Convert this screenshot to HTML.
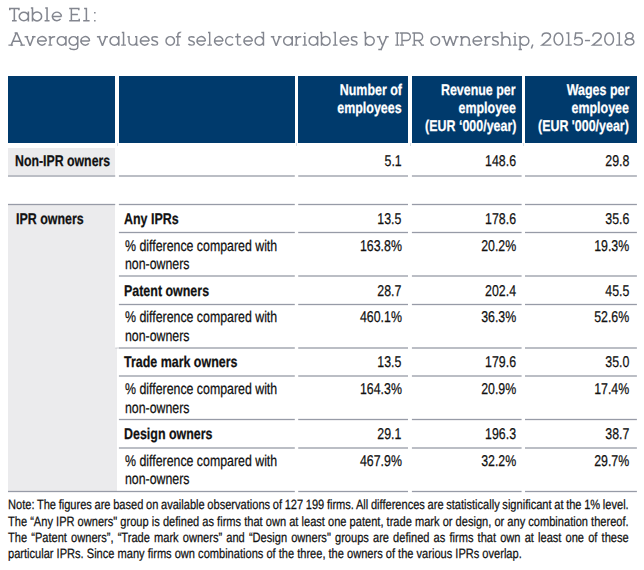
<!DOCTYPE html>
<html><head><meta charset="utf-8"><style>
html,body{margin:0;padding:0;background:#fff;}
body{width:644px;height:570px;position:relative;overflow:hidden;font-family:"Liberation Sans",sans-serif;}
.t{position:absolute;line-height:0;white-space:nowrap;-webkit-text-stroke:0.25px currentColor;text-rendering:geometricPrecision;}
</style></head><body>
<svg style="position:absolute;left:0;top:0" width="644" height="60" fill="none" stroke="#83868f" stroke-width="1.45"><g transform="translate(9.00 21.40) scale(1.0667 1)"><path transform="translate(0.00 0)" d="M0.00 -12.88L10.00 -12.88M0.72 -13.60L0.72 -11.20M9.28 -13.60L9.28 -11.20M5.00 -13.60L5.00 0.00M2.80 -0.72L7.20 -0.72"/><path transform="translate(8.90 0)" d="M0.72 -4.95A4.28 4.28 0 1 0 9.28 -4.95A4.28 4.28 0 1 0 0.72 -4.95M9.28 -9.90L9.28 0.00"/><path transform="translate(20.50 0)" d="M1.50 -14.10L1.50 0.00M0.00 -13.38L2.23 -13.38M1.50 -4.95A4.28 4.28 0 1 0 10.05 -4.95A4.28 4.28 0 1 0 1.50 -4.95"/><path transform="translate(33.38 0)" d="M2.30 -14.10L2.30 0.00M0.60 -13.38L3.02 -13.38M0.00 -0.72L4.60 -0.72"/><path transform="translate(39.88 0)" d="M9.28 -4.95A4.28 4.28 0 1 0 8.50 -2.50M0.72 -4.95L9.28 -4.95"/></g><g transform="translate(69.20 21.40) scale(1.0353 1)"><path transform="translate(0.00 0)" d="M2.10 -13.60L2.10 0.00M0.00 -12.88L10.00 -12.88M9.28 -13.60L9.28 -11.20M2.10 -6.90L8.40 -6.90M0.00 -0.72L10.40 -0.72M9.68 0.00L9.68 -2.60"/><path transform="translate(13.50 0)" d="M3.10 -13.60L3.10 0.00M0.90 -12.88L3.83 -12.88M0.00 -0.72L6.20 -0.72"/><path transform="translate(24.00 0)" d="M0.75 -9.45L0.75 -7.95M0.75 -1.50L0.75 0.00"/></g><g transform="translate(8.40 45.85) scale(1.0174 1)"><path transform="translate(0.00 0)" d="M2.40 0.00L8.10 -13.60M8.10 -13.60L13.80 0.00M6.10 -12.88L8.30 -12.88M4.37 -4.70L11.83 -4.70M0.00 -0.72L4.60 -0.72M11.60 -0.72L16.20 -0.72"/><path transform="translate(15.90 0)" d="M1.80 -9.90L5.40 0.00M5.40 0.00L9.00 -9.90M0.00 -9.18L3.50 -9.18M7.30 -9.18L10.80 -9.18"/><path transform="translate(28.00 0)" d="M9.28 -4.95A4.28 4.28 0 1 0 8.50 -2.50M0.72 -4.95L9.28 -4.95"/><path transform="translate(39.30 0)" d="M1.70 -9.90L1.70 0.00M0.20 -9.18L2.42 -9.18M0.00 -0.72L3.80 -0.72M1.70 -5.0C1.70 -8.0 3.60 -9.18 6.30 -9.18L6.70 -9.18"/><path transform="translate(47.30 0)" d="M0.72 -4.95A4.28 4.28 0 1 0 9.28 -4.95A4.28 4.28 0 1 0 0.72 -4.95M9.28 -9.90L9.28 0.00"/><path transform="translate(58.90 0)" d="M0.72 -4.95A4.28 4.28 0 1 0 9.28 -4.95A4.28 4.28 0 1 0 0.72 -4.95M9.28 -9.90L9.28 0.80M9.28 0.8C9.28 4.00 6.40 3.57 5.00 3.57C2.80 3.57 1.60 3.00 1.10 2.00"/><path transform="translate(70.50 0)" d="M9.28 -4.95A4.28 4.28 0 1 0 8.50 -2.50M0.72 -4.95L9.28 -4.95"/></g><g transform="translate(96.90 45.85) scale(1.0250 1)"><path transform="translate(0.00 0)" d="M1.80 -9.90L5.40 0.00M5.40 0.00L9.00 -9.90M0.00 -9.18L3.50 -9.18M7.30 -9.18L10.80 -9.18"/><path transform="translate(12.10 0)" d="M0.72 -4.95A4.28 4.28 0 1 0 9.28 -4.95A4.28 4.28 0 1 0 0.72 -4.95M9.28 -9.90L9.28 0.00"/><path transform="translate(23.70 0)" d="M2.30 -14.10L2.30 0.00M0.60 -13.38L3.02 -13.38M0.00 -0.72L4.60 -0.72"/><path transform="translate(29.60 0)" d="M1.70 -9.90L1.70 -4.9C1.70 -1.7 3.50 -0.72 5.40 -0.72C7.30 -0.72 9.10 -1.7 9.10 -4.9M9.10 -9.90L9.10 0.00M0.20 -9.18L2.42 -9.18M7.60 -9.18L9.82 -9.18M8.38 -0.72L10.80 -0.72"/><path transform="translate(41.70 0)" d="M9.28 -4.95A4.28 4.28 0 1 0 8.50 -2.50M0.72 -4.95L9.28 -4.95"/><path transform="translate(53.00 0)" d="M6.40 -8.3C5.90 -9.18 4.70 -9.18 3.45 -9.18C1.5 -9.18 0.72 -8.5 0.72 -7.2C0.72 -5.5 2.0 -5.2 3.45 -4.85C4.90 -4.5 6.18 -4.0 6.18 -2.5C6.18 -1.0 5.20 -0.72 3.45 -0.72C1.8 -0.72 0.7 -1.0 0.2 -1.9"/></g><g transform="translate(165.30 45.85) scale(0.9876 1)"><path transform="translate(0.00 0)" d="M0.72 -4.95A4.28 4.28 0 1 0 9.28 -4.95A4.28 4.28 0 1 0 0.72 -4.95"/><path transform="translate(10.70 0)" d="M2.00 0L2.00 -10.6C2.00 -12.6 2.90 -13.38 4.20 -13.38C4.80 -13.38 5.10 -13.7 5.30 -13.4M0.00 -9.18L5.00 -9.18M0.00 -0.72L4.00 -0.72"/></g><g transform="translate(188.20 45.85) scale(0.9854 1)"><path transform="translate(0.00 0)" d="M6.40 -8.3C5.90 -9.18 4.70 -9.18 3.45 -9.18C1.5 -9.18 0.72 -8.5 0.72 -7.2C0.72 -5.5 2.0 -5.2 3.45 -4.85C4.90 -4.5 6.18 -4.0 6.18 -2.5C6.18 -1.0 5.20 -0.72 3.45 -0.72C1.8 -0.72 0.7 -1.0 0.2 -1.9"/><path transform="translate(8.20 0)" d="M9.28 -4.95A4.28 4.28 0 1 0 8.50 -2.50M0.72 -4.95L9.28 -4.95"/><path transform="translate(19.50 0)" d="M2.30 -14.10L2.30 0.00M0.60 -13.38L3.02 -13.38M0.00 -0.72L4.60 -0.72"/><path transform="translate(26.00 0)" d="M9.28 -4.95A4.28 4.28 0 1 0 8.50 -2.50M0.72 -4.95L9.28 -4.95"/><path transform="translate(37.30 0)" d="M8.18 -7.81A4.28 4.28 0 1 0 8.18 -2.09"/><path transform="translate(47.70 0)" d="M2.40 -12.4L2.40 -2.6C2.40 -1.0 3.30 -0.72 4.40 -0.72C5.20 -0.72 5.80 -0.8 6.10 -1.4M0.00 -9.18L5.70 -9.18"/><path transform="translate(55.83 0)" d="M9.28 -4.95A4.28 4.28 0 1 0 8.50 -2.50M0.72 -4.95L9.28 -4.95"/><path transform="translate(67.13 0)" d="M0.72 -4.95A4.28 4.28 0 1 0 9.28 -4.95A4.28 4.28 0 1 0 0.72 -4.95M9.28 -14.10L9.28 0.00M7.05 -13.38L10.00 -13.38"/></g><g transform="translate(270.80 45.85) scale(1.0038 1)"><path transform="translate(0.00 0)" d="M1.80 -9.90L5.40 0.00M5.40 0.00L9.00 -9.90M0.00 -9.18L3.50 -9.18M7.30 -9.18L10.80 -9.18"/><path transform="translate(12.10 0)" d="M0.72 -4.95A4.28 4.28 0 1 0 9.28 -4.95A4.28 4.28 0 1 0 0.72 -4.95M9.28 -9.90L9.28 0.00"/><path transform="translate(23.70 0)" d="M1.70 -9.90L1.70 0.00M0.20 -9.18L2.42 -9.18M0.00 -0.72L3.80 -0.72M1.70 -5.0C1.70 -8.0 3.60 -9.18 6.30 -9.18L6.70 -9.18"/><path transform="translate(31.70 0)" d="M2.20 -9.90L2.20 0.00M0.60 -9.18L2.93 -9.18M0.00 -0.72L4.40 -0.72M2.20 -13.45L2.20 -11.95"/><path transform="translate(37.40 0)" d="M0.72 -4.95A4.28 4.28 0 1 0 9.28 -4.95A4.28 4.28 0 1 0 0.72 -4.95M9.28 -9.90L9.28 0.00"/><path transform="translate(49.00 0)" d="M1.50 -14.10L1.50 0.00M0.00 -13.38L2.23 -13.38M1.50 -4.95A4.28 4.28 0 1 0 10.05 -4.95A4.28 4.28 0 1 0 1.50 -4.95"/><path transform="translate(61.88 0)" d="M2.30 -14.10L2.30 0.00M0.60 -13.38L3.02 -13.38M0.00 -0.72L4.60 -0.72"/><path transform="translate(68.38 0)" d="M9.28 -4.95A4.28 4.28 0 1 0 8.50 -2.50M0.72 -4.95L9.28 -4.95"/><path transform="translate(79.67 0)" d="M6.40 -8.3C5.90 -9.18 4.70 -9.18 3.45 -9.18C1.5 -9.18 0.72 -8.5 0.72 -7.2C0.72 -5.5 2.0 -5.2 3.45 -4.85C4.90 -4.5 6.18 -4.0 6.18 -2.5C6.18 -1.0 5.20 -0.72 3.45 -0.72C1.8 -0.72 0.7 -1.0 0.2 -1.9"/></g><g transform="translate(363.90 45.85) scale(1.0216 1)"><path transform="translate(0.00 0)" d="M1.50 -14.10L1.50 0.00M0.00 -13.38L2.23 -13.38M1.50 -4.95A4.28 4.28 0 1 0 10.05 -4.95A4.28 4.28 0 1 0 1.50 -4.95"/><path transform="translate(12.68 0)" d="M1.80 -9.90L5.80 0.00M9.80 -9.90L3.90 4.30M0.00 -9.18L3.50 -9.18M8.10 -9.18L11.60 -9.18M1.40 3.57L4.90 3.57"/></g><g transform="translate(395.30 45.85) scale(0.9543 1)"><path transform="translate(0.00 0)" d="M2.10 -13.60L2.10 0.00M0.00 -12.88L4.20 -12.88M0.00 -0.72L4.20 -0.72"/><path transform="translate(4.90 0)" d="M2.10 -13.60L2.10 0.00M0.00 -12.88L2.10 -12.88M0.00 -0.72L4.20 -0.72M2.10 -12.88L7.10 -12.88A3.75 3.75 0 0 1 7.10 -5.38L2.10 -5.38"/><path transform="translate(17.78 0)" d="M2.10 -13.60L2.10 0.00M0.00 -12.88L2.10 -12.88M0.00 -0.72L4.20 -0.72M2.10 -12.88L7.10 -12.88A3.75 3.75 0 0 1 7.10 -5.38L2.10 -5.38M6.50 -5.38L10.70 0.00M8.90 -0.72L12.30 -0.72"/></g><g transform="translate(430.20 45.85) scale(1.0160 1)"><path transform="translate(0.00 0)" d="M0.72 -4.95A4.28 4.28 0 1 0 9.28 -4.95A4.28 4.28 0 1 0 0.72 -4.95"/><path transform="translate(11.30 0)" d="M1.80 -9.90L5.05 0.00M5.05 0.00L8.30 -9.60M8.30 -9.60L11.55 0.00M11.55 0.00L14.80 -9.90M0.00 -9.18L3.30 -9.18M13.30 -9.18L16.60 -9.18"/><path transform="translate(29.20 0)" d="M1.70 -9.90L1.70 0.00M0.20 -9.18L2.42 -9.18M0.00 -0.72L3.40 -0.72M1.70 -4.8C1.70 -8.1 3.50 -9.18 5.50 -9.18C7.50 -9.18 9.30 -8.1 9.30 -4.8L9.30 0M7.60 -0.72L11.00 -0.72"/><path transform="translate(41.50 0)" d="M9.28 -4.95A4.28 4.28 0 1 0 8.50 -2.50M0.72 -4.95L9.28 -4.95"/><path transform="translate(52.80 0)" d="M1.70 -9.90L1.70 0.00M0.20 -9.18L2.42 -9.18M0.00 -0.72L3.80 -0.72M1.70 -5.0C1.70 -8.0 3.60 -9.18 6.30 -9.18L6.70 -9.18"/><path transform="translate(60.80 0)" d="M6.40 -8.3C5.90 -9.18 4.70 -9.18 3.45 -9.18C1.5 -9.18 0.72 -8.5 0.72 -7.2C0.72 -5.5 2.0 -5.2 3.45 -4.85C4.90 -4.5 6.18 -4.0 6.18 -2.5C6.18 -1.0 5.20 -0.72 3.45 -0.72C1.8 -0.72 0.7 -1.0 0.2 -1.9"/><path transform="translate(69.00 0)" d="M1.70 -14.10L1.70 0.00M0.20 -13.38L2.42 -13.38M0.00 -0.72L3.40 -0.72M1.70 -4.8C1.70 -8.1 3.50 -9.18 5.50 -9.18C7.50 -9.18 9.30 -8.1 9.30 -4.8L9.30 0M7.60 -0.72L11.00 -0.72"/><path transform="translate(81.30 0)" d="M2.20 -9.90L2.20 0.00M0.60 -9.18L2.93 -9.18M0.00 -0.72L4.40 -0.72M2.20 -13.45L2.20 -11.95"/><path transform="translate(87.00 0)" d="M1.50 -9.90L1.50 4.30M0.00 -9.18L2.23 -9.18M0.00 3.57L3.30 3.57M1.50 -4.95A4.28 4.28 0 1 0 10.05 -4.95A4.28 4.28 0 1 0 1.50 -4.95"/><path transform="translate(99.08 0)" d="M1.90 -1.30L0.50 2.60"/></g><g transform="translate(541.20 45.85) scale(1.0264 1)"><path transform="translate(0.00 0)" d="M0.9 -9.3C0.9 -12.1 2.7 -12.88 5.00 -12.88C8.10 -12.88 9.08 -11.9 9.08 -9.5C9.08 -7.4 7.40 -5.8 0.82 -0.72L10.00 -0.72"/><path transform="translate(11.80 0)" d="M0.72 -6.80A4.28 6.08 0 1 0 9.28 -6.80A4.28 6.08 0 1 0 0.72 -6.80"/><path transform="translate(23.60 0)" d="M3.10 -13.60L3.10 0.00M0.90 -12.88L3.83 -12.88M0.00 -0.72L6.20 -0.72"/><path transform="translate(31.60 0)" d="M8.60 -12.88L2.0 -12.88L1.3 -7.2C2.3 -8.1 3.3 -8.4 4.4 -8.4C7.0 -8.4 8.47 -6.7 8.47 -4.3C8.47 -1.8 7.0 -0.72 4.4 -0.72C2.6 -0.72 1.1 -1.2 0.3 -2.4"/><path transform="translate(42.60 0)" d="M0.00 -5.30L5.00 -5.30"/><path transform="translate(49.40 0)" d="M0.9 -9.3C0.9 -12.1 2.7 -12.88 5.00 -12.88C8.10 -12.88 9.08 -11.9 9.08 -9.5C9.08 -7.4 7.40 -5.8 0.82 -0.72L10.00 -0.72"/><path transform="translate(61.20 0)" d="M0.72 -6.80A4.28 6.08 0 1 0 9.28 -6.80A4.28 6.08 0 1 0 0.72 -6.80"/><path transform="translate(73.00 0)" d="M3.10 -13.60L3.10 0.00M0.90 -12.88L3.83 -12.88M0.00 -0.72L6.20 -0.72"/><path transform="translate(81.00 0)" d="M1.42 -10.03A3.58 2.85 0 1 0 8.57 -10.03A3.58 2.85 0 1 0 1.42 -10.03M0.72 -3.95A4.28 3.23 0 1 0 9.28 -3.95A4.28 3.23 0 1 0 0.72 -3.95"/></g></svg>
<div style="position:absolute;left:8px;top:76px;width:107.20px;height:66.70px;background:#003a6c"></div>
<div style="position:absolute;left:118.9px;top:76px;width:175.90px;height:66.70px;background:#003a6c"></div>
<div style="position:absolute;left:298.2px;top:76px;width:109.80px;height:66.70px;background:#003a6c"></div>
<div style="position:absolute;left:411.9px;top:76px;width:109.70px;height:66.70px;background:#003a6c"></div>
<div style="position:absolute;left:525px;top:76px;width:111.90px;height:66.70px;background:#003a6c"></div>
<div class="t" style="right:242.20px;transform-origin:100% 4px;top:91.00px;font-size:15.6px;font-weight:bold;color:#fff;transform:scaleX(0.798);">Number of</div>
<div class="t" style="right:242.20px;transform-origin:100% 4px;top:109.00px;font-size:15.6px;font-weight:bold;color:#fff;transform:scaleX(0.798);">employees</div>
<div class="t" style="right:128.00px;transform-origin:100% 4px;top:91.00px;font-size:15.6px;font-weight:bold;color:#fff;transform:scaleX(0.798);">Revenue per</div>
<div class="t" style="right:128.00px;transform-origin:100% 4px;top:109.00px;font-size:15.6px;font-weight:bold;color:#fff;transform:scaleX(0.798);">employee</div>
<div class="t" style="right:128.00px;transform-origin:100% 4px;top:127.00px;font-size:15.6px;font-weight:bold;color:#fff;transform:scaleX(0.798);">(EUR &lsquo;000/year)</div>
<div class="t" style="right:15.00px;transform-origin:100% 4px;top:91.00px;font-size:15.6px;font-weight:bold;color:#fff;transform:scaleX(0.798);">Wages per</div>
<div class="t" style="right:15.00px;transform-origin:100% 4px;top:109.00px;font-size:15.6px;font-weight:bold;color:#fff;transform:scaleX(0.798);">employee</div>
<div class="t" style="right:15.00px;transform-origin:100% 4px;top:127.00px;font-size:15.6px;font-weight:bold;color:#fff;transform:scaleX(0.798);">(EUR '000/year)</div>
<div style="position:absolute;left:8px;top:148px;width:107.20px;height:27.00px;background:#ebebed"></div>
<div style="position:absolute;left:8px;top:205px;width:107.20px;height:143.00px;background:#ebebed"></div>
<div style="position:absolute;left:8px;top:348px;width:109.00px;height:143.00px;background:#ebebed"></div>
<svg style="position:absolute;left:0;top:0" width="644" height="570" shape-rendering="geometricPrecision"><g fill="#979ba7"><rect x="8" y="175.35" width="107.20" height="1.3"/><rect x="118.9" y="175.35" width="175.90" height="1.3"/><rect x="298.2" y="175.35" width="109.80" height="1.3"/><rect x="411.9" y="175.35" width="109.70" height="1.3"/><rect x="525" y="175.35" width="111.90" height="1.3"/><rect x="8" y="203.85" width="107.20" height="1.3"/><rect x="118.9" y="203.85" width="175.90" height="1.3"/><rect x="298.2" y="203.85" width="109.80" height="1.3"/><rect x="411.9" y="203.85" width="109.70" height="1.3"/><rect x="525" y="203.85" width="111.90" height="1.3"/><rect x="118.9" y="231.85" width="175.90" height="1.3"/><rect x="298.2" y="231.85" width="109.80" height="1.3"/><rect x="411.9" y="231.85" width="109.70" height="1.3"/><rect x="525" y="231.85" width="111.90" height="1.3"/><rect x="118.9" y="275.35" width="175.90" height="1.3"/><rect x="298.2" y="275.35" width="109.80" height="1.3"/><rect x="411.9" y="275.35" width="109.70" height="1.3"/><rect x="525" y="275.35" width="111.90" height="1.3"/><rect x="118.9" y="303.85" width="175.90" height="1.3"/><rect x="298.2" y="303.85" width="109.80" height="1.3"/><rect x="411.9" y="303.85" width="109.70" height="1.3"/><rect x="525" y="303.85" width="111.90" height="1.3"/><rect x="115.2" y="347.35" width="3.7" height="1.3" opacity="0.35"/><rect x="118.9" y="347.35" width="175.90" height="1.3"/><rect x="298.2" y="347.35" width="109.80" height="1.3"/><rect x="411.9" y="347.35" width="109.70" height="1.3"/><rect x="525" y="347.35" width="111.90" height="1.3"/><rect x="118.9" y="375.35" width="175.90" height="1.3"/><rect x="298.2" y="375.35" width="109.80" height="1.3"/><rect x="411.9" y="375.35" width="109.70" height="1.3"/><rect x="525" y="375.35" width="111.90" height="1.3"/><rect x="118.9" y="418.85" width="175.90" height="1.3"/><rect x="298.2" y="418.85" width="109.80" height="1.3"/><rect x="411.9" y="418.85" width="109.70" height="1.3"/><rect x="525" y="418.85" width="111.90" height="1.3"/><rect x="118.9" y="447.35" width="175.90" height="1.3"/><rect x="298.2" y="447.35" width="109.80" height="1.3"/><rect x="411.9" y="447.35" width="109.70" height="1.3"/><rect x="525" y="447.35" width="111.90" height="1.3"/><rect x="8" y="490.85" width="286.80" height="1.3"/><rect x="298.2" y="490.85" width="109.80" height="1.3"/><rect x="411.9" y="490.85" width="109.70" height="1.3"/><rect x="525" y="490.85" width="111.90" height="1.3"/></g></svg>
<div style="position:absolute;left:116.6px;top:143px;width:1px;height:3px;background:#d5dee8"></div>
<div style="position:absolute;left:296.1px;top:143px;width:1px;height:3px;background:#d5dee8"></div>
<div style="position:absolute;left:409.6px;top:143px;width:1px;height:3px;background:#d5dee8"></div>
<div style="position:absolute;left:523.0px;top:143px;width:1px;height:3px;background:#d5dee8"></div>
<div class="t" style="left:15.1px;transform-origin:0 4px;top:162.00px;font-size:15.6px;font-weight:bold;color:#111;transform:scaleX(0.79);">Non-IPR owners</div>
<div class="t" style="right:242.20px;transform-origin:100% 4px;top:162.00px;font-size:15.6px;font-weight:normal;color:#111;transform:scaleX(0.792);">5.1</div>
<div class="t" style="right:128.00px;transform-origin:100% 4px;top:162.00px;font-size:15.6px;font-weight:normal;color:#111;transform:scaleX(0.792);">148.6</div>
<div class="t" style="right:15.00px;transform-origin:100% 4px;top:162.00px;font-size:15.6px;font-weight:normal;color:#111;transform:scaleX(0.792);">29.8</div>
<div class="t" style="left:16px;transform-origin:0 4px;top:220.00px;font-size:15.6px;font-weight:bold;color:#111;transform:scaleX(0.798);">IPR owners</div>
<div class="t" style="left:124.3px;transform-origin:0 4px;top:220.00px;font-size:15.6px;font-weight:bold;color:#111;transform:scaleX(0.798);">Any IPRs</div>
<div class="t" style="right:242.20px;transform-origin:100% 4px;top:220.00px;font-size:15.6px;font-weight:normal;color:#111;transform:scaleX(0.792);">13.5</div>
<div class="t" style="right:128.00px;transform-origin:100% 4px;top:220.00px;font-size:15.6px;font-weight:normal;color:#111;transform:scaleX(0.792);">178.6</div>
<div class="t" style="right:15.00px;transform-origin:100% 4px;top:220.00px;font-size:15.6px;font-weight:normal;color:#111;transform:scaleX(0.792);">35.6</div>
<div class="t" style="left:124.5px;transform-origin:0 4px;top:247.00px;font-size:15.6px;font-weight:normal;color:#111;transform:scaleX(0.792);">% difference compared with</div>
<div class="t" style="left:124.5px;transform-origin:0 4px;top:265.00px;font-size:15.6px;font-weight:normal;color:#111;transform:scaleX(0.792);">non-owners</div>
<div class="t" style="right:242.20px;transform-origin:100% 4px;top:247.00px;font-size:15.6px;font-weight:normal;color:#111;transform:scaleX(0.792);">163.8%</div>
<div class="t" style="right:128.00px;transform-origin:100% 4px;top:247.00px;font-size:15.6px;font-weight:normal;color:#111;transform:scaleX(0.792);">20.2%</div>
<div class="t" style="right:15.00px;transform-origin:100% 4px;top:247.00px;font-size:15.6px;font-weight:normal;color:#111;transform:scaleX(0.792);">19.3%</div>
<div class="t" style="left:124.3px;transform-origin:0 4px;top:292.00px;font-size:15.6px;font-weight:bold;color:#111;transform:scaleX(0.798);">Patent owners</div>
<div class="t" style="right:242.20px;transform-origin:100% 4px;top:292.00px;font-size:15.6px;font-weight:normal;color:#111;transform:scaleX(0.792);">28.7</div>
<div class="t" style="right:128.00px;transform-origin:100% 4px;top:292.00px;font-size:15.6px;font-weight:normal;color:#111;transform:scaleX(0.792);">202.4</div>
<div class="t" style="right:15.00px;transform-origin:100% 4px;top:292.00px;font-size:15.6px;font-weight:normal;color:#111;transform:scaleX(0.792);">45.5</div>
<div class="t" style="left:124.5px;transform-origin:0 4px;top:318.00px;font-size:15.6px;font-weight:normal;color:#111;transform:scaleX(0.792);">% difference compared with</div>
<div class="t" style="left:124.5px;transform-origin:0 4px;top:337.00px;font-size:15.6px;font-weight:normal;color:#111;transform:scaleX(0.792);">non-owners</div>
<div class="t" style="right:242.20px;transform-origin:100% 4px;top:318.00px;font-size:15.6px;font-weight:normal;color:#111;transform:scaleX(0.792);">460.1%</div>
<div class="t" style="right:128.00px;transform-origin:100% 4px;top:318.00px;font-size:15.6px;font-weight:normal;color:#111;transform:scaleX(0.792);">36.3%</div>
<div class="t" style="right:15.00px;transform-origin:100% 4px;top:318.00px;font-size:15.6px;font-weight:normal;color:#111;transform:scaleX(0.792);">52.6%</div>
<div class="t" style="left:124.3px;transform-origin:0 4px;top:363.00px;font-size:15.6px;font-weight:bold;color:#111;transform:scaleX(0.798);">Trade mark owners</div>
<div class="t" style="right:242.20px;transform-origin:100% 4px;top:363.00px;font-size:15.6px;font-weight:normal;color:#111;transform:scaleX(0.792);">13.5</div>
<div class="t" style="right:128.00px;transform-origin:100% 4px;top:363.00px;font-size:15.6px;font-weight:normal;color:#111;transform:scaleX(0.792);">179.6</div>
<div class="t" style="right:15.00px;transform-origin:100% 4px;top:363.00px;font-size:15.6px;font-weight:normal;color:#111;transform:scaleX(0.792);">35.0</div>
<div class="t" style="left:124.5px;transform-origin:0 4px;top:390.00px;font-size:15.6px;font-weight:normal;color:#111;transform:scaleX(0.792);">% difference compared with</div>
<div class="t" style="left:124.5px;transform-origin:0 4px;top:409.00px;font-size:15.6px;font-weight:normal;color:#111;transform:scaleX(0.792);">non-owners</div>
<div class="t" style="right:242.20px;transform-origin:100% 4px;top:390.00px;font-size:15.6px;font-weight:normal;color:#111;transform:scaleX(0.792);">164.3%</div>
<div class="t" style="right:128.00px;transform-origin:100% 4px;top:390.00px;font-size:15.6px;font-weight:normal;color:#111;transform:scaleX(0.792);">20.9%</div>
<div class="t" style="right:15.00px;transform-origin:100% 4px;top:390.00px;font-size:15.6px;font-weight:normal;color:#111;transform:scaleX(0.792);">17.4%</div>
<div class="t" style="left:124.3px;transform-origin:0 4px;top:435.00px;font-size:15.6px;font-weight:bold;color:#111;transform:scaleX(0.798);">Design owners</div>
<div class="t" style="right:242.20px;transform-origin:100% 4px;top:435.00px;font-size:15.6px;font-weight:normal;color:#111;transform:scaleX(0.792);">29.1</div>
<div class="t" style="right:128.00px;transform-origin:100% 4px;top:435.00px;font-size:15.6px;font-weight:normal;color:#111;transform:scaleX(0.792);">196.3</div>
<div class="t" style="right:15.00px;transform-origin:100% 4px;top:435.00px;font-size:15.6px;font-weight:normal;color:#111;transform:scaleX(0.792);">38.7</div>
<div class="t" style="left:124.5px;transform-origin:0 4px;top:462.00px;font-size:15.6px;font-weight:normal;color:#111;transform:scaleX(0.792);">% difference compared with</div>
<div class="t" style="left:124.5px;transform-origin:0 4px;top:480.00px;font-size:15.6px;font-weight:normal;color:#111;transform:scaleX(0.792);">non-owners</div>
<div class="t" style="right:242.20px;transform-origin:100% 4px;top:462.00px;font-size:15.6px;font-weight:normal;color:#111;transform:scaleX(0.792);">467.9%</div>
<div class="t" style="right:128.00px;transform-origin:100% 4px;top:462.00px;font-size:15.6px;font-weight:normal;color:#111;transform:scaleX(0.792);">32.2%</div>
<div class="t" style="right:15.00px;transform-origin:100% 4px;top:462.00px;font-size:15.6px;font-weight:normal;color:#111;transform:scaleX(0.792);">29.7%</div>
<div class="t" style="left:8.2px;transform-origin:0 4px;top:505.00px;font-size:13.5px;font-weight:normal;color:#111;transform:scaleX(0.82);word-spacing:-0.512px;">Note: The figures are based on available observations of 127 199 firms. All differences are statistically significant at the 1% level.</div>
<div class="t" style="left:8.2px;transform-origin:0 4px;top:522.00px;font-size:13.5px;font-weight:normal;color:#111;transform:scaleX(0.82);word-spacing:0.043px;">The &ldquo;Any IPR owners&quot; group is defined as firms that own at least one patent, trade mark or design, or any combination thereof.</div>
<div class="t" style="left:8.2px;transform-origin:0 4px;top:538.00px;font-size:13.5px;font-weight:normal;color:#111;transform:scaleX(0.82);word-spacing:1.312px;">The &ldquo;Patent owners&rdquo;, &ldquo;Trade mark owners&rdquo; and &ldquo;Design owners&quot; groups are defined as firms that own at least one of these</div>
<div class="t" style="left:8.2px;transform-origin:0 4px;top:554.00px;font-size:13.5px;font-weight:normal;color:#111;transform:scaleX(0.82);">particular IPRs. Since many firms own combinations of the three, the owners of the various IPRs overlap.</div>
</body></html>
